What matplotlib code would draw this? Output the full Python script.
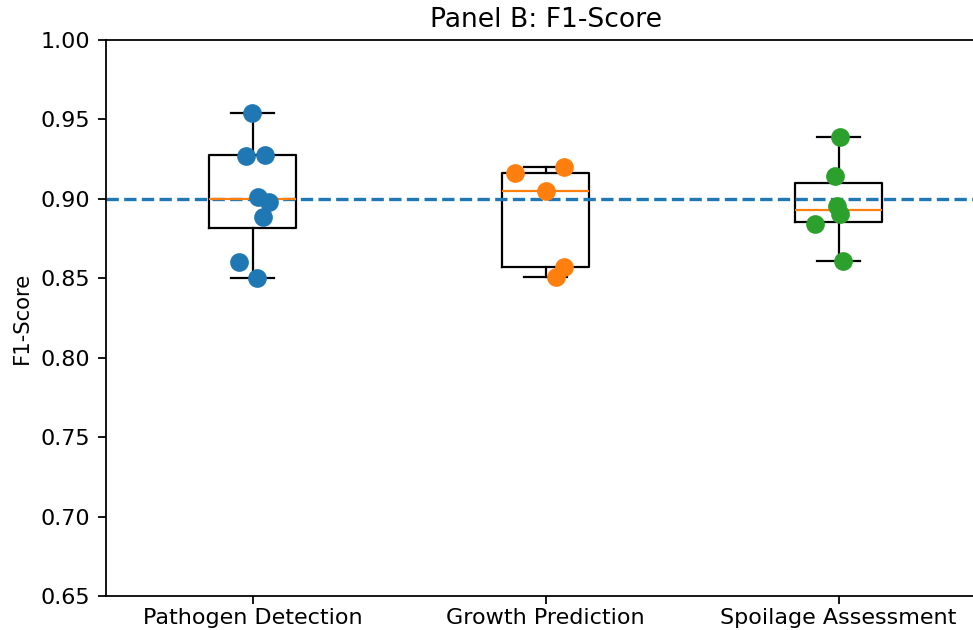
import matplotlib
matplotlib.use("Agg")
import matplotlib.pyplot as plt

categories = ["Pathogen Detection", "Growth Prediction", "Spoilage Assessment"]

pathogen_scores = [0.9542, 0.9272, 0.9276, 0.9010, 0.8982, 0.8884, 0.8604, 0.8504]
pathogen_jitter = [-0.001, -0.023, 0.043, 0.018, 0.057, 0.035, -0.045, 0.016]

growth_scores = [0.9165, 0.9202, 0.9048, 0.8569, 0.8510]
growth_jitter = [-0.104, 0.064, 0.001, 0.064, 0.036]

spoilage_scores = [0.9387, 0.9144, 0.8955, 0.8903, 0.8842, 0.8611]
spoilage_jitter = [0.005, -0.012, -0.006, 0.005, -0.080, 0.016]

reference_value = 0.90
y_ticks = [0.65, 0.70, 0.75, 0.80, 0.85, 0.90, 0.95, 1.00]

scores = [pathogen_scores, growth_scores, spoilage_scores]
jitters = [pathogen_jitter, growth_jitter, spoilage_jitter]
colors = ["#1f77b4", "#ff7f0e", "#2ca02c"]

DPI = 160
fig = plt.figure(figsize=(973 / DPI, 630 / DPI), dpi=DPI)
ax = fig.add_axes([106 / 973, 34 / 630, 879 / 973, 556 / 630])

positions = [1, 2, 3]
ax.boxplot(scores, positions=positions, showfliers=False)

for pos, vals, jit, col in zip(positions, scores, jitters, colors):
    ax.scatter([pos + j for j in jit], vals, color=col, s=55, zorder=3)

ax.axhline(reference_value, color="#1f77b4", linestyle="--", linewidth=1.5)

ax.set_xticks(positions)
ax.set_xticklabels(categories)
ax.tick_params(axis="x", pad=2)
ax.set_xlim(0.5, 3.5)
ax.set_ylim(0.65, 1.00)
ax.set_yticks(y_ticks)
ax.set_yticklabels([f"{t:.2f}" for t in y_ticks])
ax.set_ylabel("F1-Score", fontsize=9.5)
ax.set_title("Panel B: F1-Score")

fig.savefig("out.png", dpi=DPI)
